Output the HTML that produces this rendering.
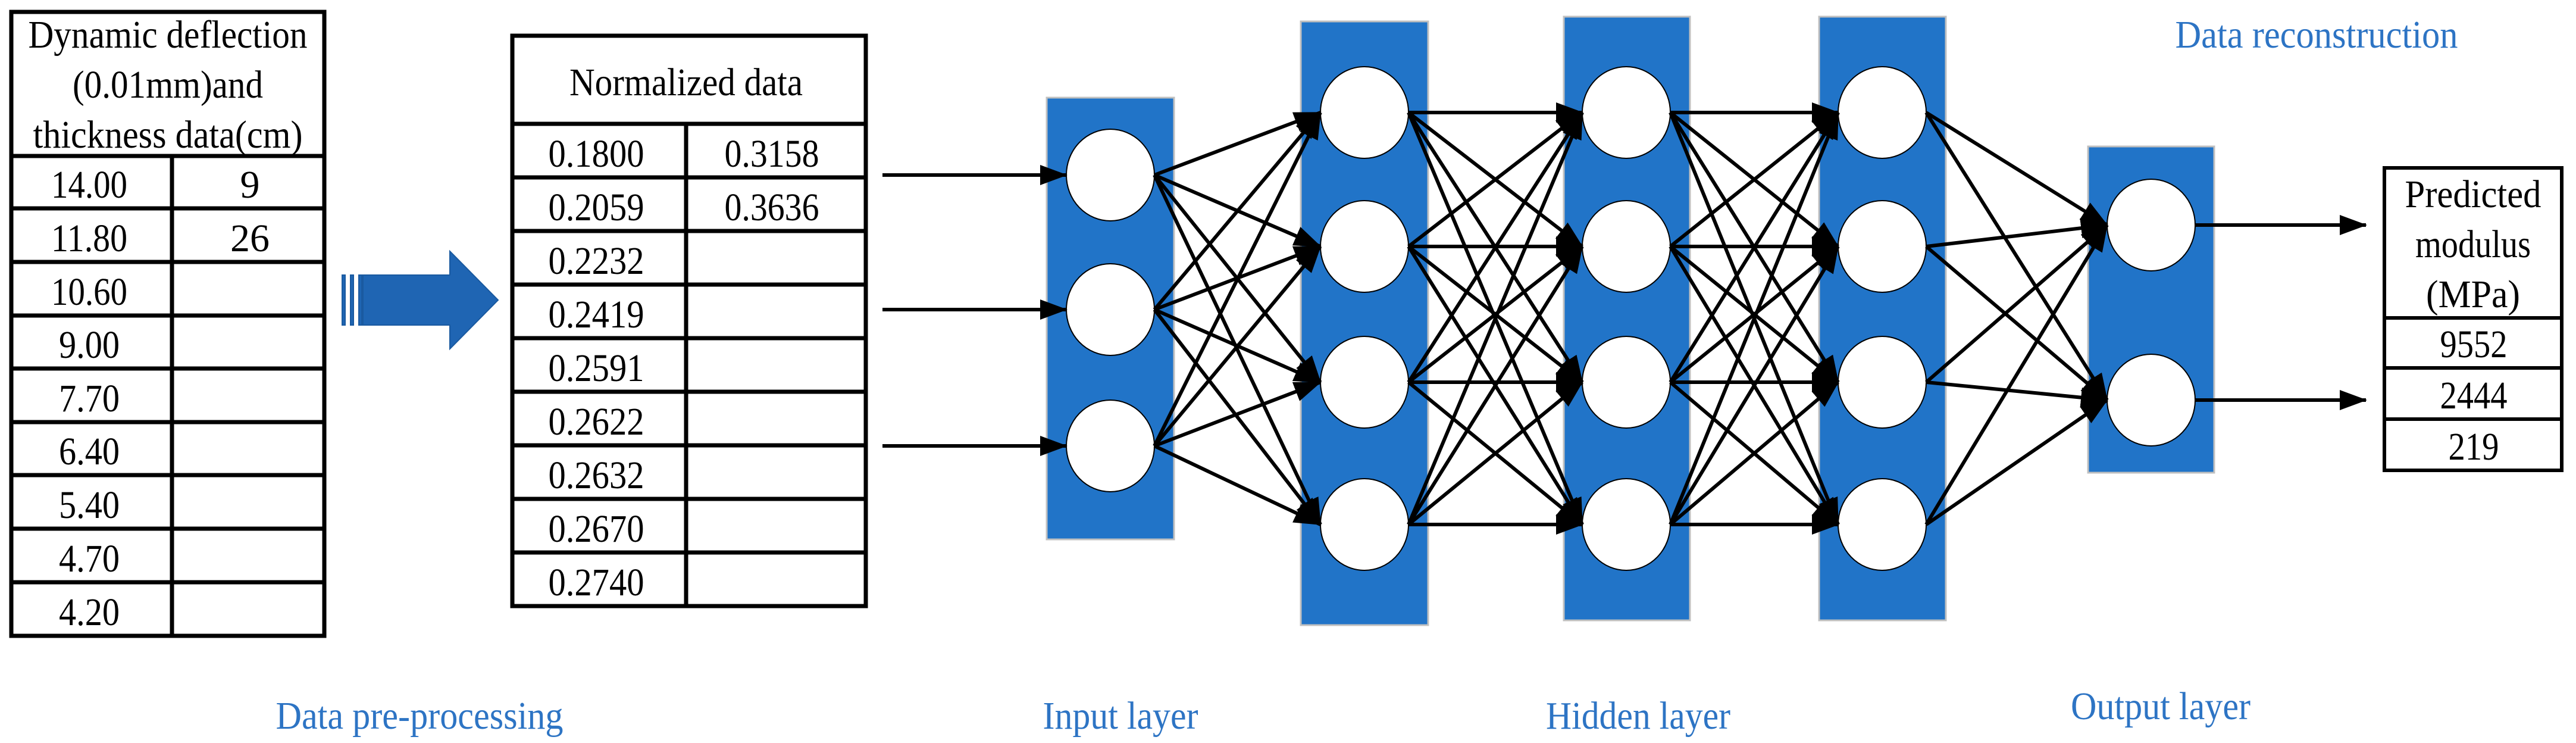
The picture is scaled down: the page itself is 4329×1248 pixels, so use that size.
<!DOCTYPE html>
<html><head><meta charset="utf-8"><style>html,body{margin:0;padding:0;background:#fff}svg{display:block}text{font-family:"Liberation Serif","DejaVu Serif",serif}</style></head><body>
<svg width="4329" height="1248" viewBox="0 0 4329 1248" xmlns="http://www.w3.org/2000/svg" style="font-family:'Liberation Serif',serif">
<defs>
<marker id="a" markerUnits="userSpaceOnUse" markerWidth="46" markerHeight="34" refX="44" refY="17" orient="auto"><path d="M0,0 L46,17 L0,34 z" fill="#000"/></marker>
</defs>
<g stroke="#000" stroke-width="7" fill="none">
<rect x="19" y="20" width="526" height="1048"/>
<line x1="19" y1="262" x2="545" y2="262"/>
<line x1="289" y1="262" x2="289" y2="1068"/>
<line x1="19" y1="350" x2="545" y2="350"/><line x1="19" y1="440" x2="545" y2="440"/><line x1="19" y1="530" x2="545" y2="530"/><line x1="19" y1="619" x2="545" y2="619"/><line x1="19" y1="709" x2="545" y2="709"/><line x1="19" y1="798" x2="545" y2="798"/><line x1="19" y1="888" x2="545" y2="888"/><line x1="19" y1="978" x2="545" y2="978"/>
</g>
<g font-size="66" fill="#000" text-anchor="middle">
<text x="282" y="80" textLength="469" lengthAdjust="spacingAndGlyphs">Dynamic deflection</text>
<text x="282" y="164" textLength="320" lengthAdjust="spacingAndGlyphs">(0.01mm)and</text>
<text x="282" y="248" textLength="453" lengthAdjust="spacingAndGlyphs">thickness data(cm)</text>
<text x="150" y="332" textLength="128" lengthAdjust="spacingAndGlyphs">14.00</text>
<text x="420" y="332">9</text>
<text x="150" y="422" textLength="128" lengthAdjust="spacingAndGlyphs">11.80</text>
<text x="420" y="422">26</text>
<text x="150" y="512" textLength="128" lengthAdjust="spacingAndGlyphs">10.60</text>
<text x="150" y="601" textLength="102" lengthAdjust="spacingAndGlyphs">9.00</text>
<text x="150" y="691" textLength="102" lengthAdjust="spacingAndGlyphs">7.70</text>
<text x="150" y="780" textLength="102" lengthAdjust="spacingAndGlyphs">6.40</text>
<text x="150" y="870" textLength="102" lengthAdjust="spacingAndGlyphs">5.40</text>
<text x="150" y="960" textLength="102" lengthAdjust="spacingAndGlyphs">4.70</text>
<text x="150" y="1050" textLength="102" lengthAdjust="spacingAndGlyphs">4.20</text>
</g>
<g fill="#1f65b3" stroke="#1a5aa0" stroke-width="2">
<rect x="575" y="462" width="5" height="84"/><rect x="589" y="462" width="5" height="84"/><rect x="603" y="462" width="5" height="84"/>
<path d="M610,462 L756,462 L756,422 L837,504 L756,586 L756,546 L610,546 z"/>
</g>
<g stroke="#000" stroke-width="7" fill="none">
<rect x="861" y="60" width="594" height="958"/>
<line x1="861" y1="208" x2="1455" y2="208"/>
<line x1="1153" y1="208" x2="1153" y2="1018"/>
<line x1="861" y1="298" x2="1455" y2="298"/><line x1="861" y1="388" x2="1455" y2="388"/><line x1="861" y1="478" x2="1455" y2="478"/><line x1="861" y1="568" x2="1455" y2="568"/><line x1="861" y1="658" x2="1455" y2="658"/><line x1="861" y1="748" x2="1455" y2="748"/><line x1="861" y1="838" x2="1455" y2="838"/><line x1="861" y1="928" x2="1455" y2="928"/>
</g>
<g font-size="66" fill="#000" text-anchor="middle">
<text x="1153" y="160" textLength="392" lengthAdjust="spacingAndGlyphs">Normalized data</text>
<text x="1002" y="280" textLength="161" lengthAdjust="spacingAndGlyphs">0.1800</text>
<text x="1297" y="280" textLength="159" lengthAdjust="spacingAndGlyphs">0.3158</text>
<text x="1002" y="370" textLength="161" lengthAdjust="spacingAndGlyphs">0.2059</text>
<text x="1297" y="370" textLength="159" lengthAdjust="spacingAndGlyphs">0.3636</text>
<text x="1002" y="460" textLength="161" lengthAdjust="spacingAndGlyphs">0.2232</text>
<text x="1002" y="550" textLength="161" lengthAdjust="spacingAndGlyphs">0.2419</text>
<text x="1002" y="640" textLength="161" lengthAdjust="spacingAndGlyphs">0.2591</text>
<text x="1002" y="730" textLength="161" lengthAdjust="spacingAndGlyphs">0.2622</text>
<text x="1002" y="820" textLength="161" lengthAdjust="spacingAndGlyphs">0.2632</text>
<text x="1002" y="910" textLength="161" lengthAdjust="spacingAndGlyphs">0.2670</text>
<text x="1002" y="1000" textLength="161" lengthAdjust="spacingAndGlyphs">0.2740</text>
</g>
<g fill="#2174c8" stroke="#c0c0c0" stroke-width="3">
<rect x="1759" y="164" width="214" height="742"/>
<rect x="2186" y="36" width="214" height="1014"/>
<rect x="2628" y="28" width="212" height="1014"/>
<rect x="3057" y="28" width="213" height="1014"/>
<rect x="3509" y="246" width="212" height="548"/>
</g>
<g fill="#fff" stroke="#000" stroke-width="2">
<ellipse cx="1866" cy="294" rx="74" ry="77"/><ellipse cx="1866" cy="520" rx="74" ry="77"/><ellipse cx="1866" cy="749" rx="74" ry="77"/>
<ellipse cx="2293" cy="189" rx="74" ry="77"/><ellipse cx="2293" cy="414" rx="74" ry="77"/><ellipse cx="2293" cy="642" rx="74" ry="77"/><ellipse cx="2293" cy="881" rx="74" ry="77"/>
<ellipse cx="2733" cy="189" rx="74" ry="77"/><ellipse cx="2733" cy="414" rx="74" ry="77"/><ellipse cx="2733" cy="642" rx="74" ry="77"/><ellipse cx="2733" cy="881" rx="74" ry="77"/>
<ellipse cx="3163" cy="189" rx="74" ry="77"/><ellipse cx="3163" cy="414" rx="74" ry="77"/><ellipse cx="3163" cy="642" rx="74" ry="77"/><ellipse cx="3163" cy="881" rx="74" ry="77"/>
<ellipse cx="3615" cy="378" rx="74" ry="77"/><ellipse cx="3615" cy="672" rx="74" ry="77"/>
</g>
<g stroke="#000" stroke-width="6" marker-end="url(#a)">
<line x1="1483" y1="294" x2="1792" y2="294"/><line x1="1483" y1="520" x2="1792" y2="520"/><line x1="1483" y1="749" x2="1792" y2="749"/>
<line x1="1940" y1="294" x2="2219" y2="189"/><line x1="1940" y1="294" x2="2219" y2="414"/><line x1="1940" y1="294" x2="2219" y2="642"/><line x1="1940" y1="294" x2="2219" y2="881"/>
<line x1="1940" y1="520" x2="2219" y2="189"/><line x1="1940" y1="520" x2="2219" y2="414"/><line x1="1940" y1="520" x2="2219" y2="642"/><line x1="1940" y1="520" x2="2219" y2="881"/>
<line x1="1940" y1="749" x2="2219" y2="189"/><line x1="1940" y1="749" x2="2219" y2="414"/><line x1="1940" y1="749" x2="2219" y2="642"/><line x1="1940" y1="749" x2="2219" y2="881"/>
<line x1="2367" y1="189" x2="2659" y2="189"/><line x1="2367" y1="189" x2="2659" y2="414"/><line x1="2367" y1="189" x2="2659" y2="642"/><line x1="2367" y1="189" x2="2659" y2="881"/>
<line x1="2367" y1="414" x2="2659" y2="189"/><line x1="2367" y1="414" x2="2659" y2="414"/><line x1="2367" y1="414" x2="2659" y2="642"/><line x1="2367" y1="414" x2="2659" y2="881"/>
<line x1="2367" y1="642" x2="2659" y2="189"/><line x1="2367" y1="642" x2="2659" y2="414"/><line x1="2367" y1="642" x2="2659" y2="642"/><line x1="2367" y1="642" x2="2659" y2="881"/>
<line x1="2367" y1="881" x2="2659" y2="189"/><line x1="2367" y1="881" x2="2659" y2="414"/><line x1="2367" y1="881" x2="2659" y2="642"/><line x1="2367" y1="881" x2="2659" y2="881"/>
<line x1="2807" y1="189" x2="3089" y2="189"/><line x1="2807" y1="189" x2="3089" y2="414"/><line x1="2807" y1="189" x2="3089" y2="642"/><line x1="2807" y1="189" x2="3089" y2="881"/>
<line x1="2807" y1="414" x2="3089" y2="189"/><line x1="2807" y1="414" x2="3089" y2="414"/><line x1="2807" y1="414" x2="3089" y2="642"/><line x1="2807" y1="414" x2="3089" y2="881"/>
<line x1="2807" y1="642" x2="3089" y2="189"/><line x1="2807" y1="642" x2="3089" y2="414"/><line x1="2807" y1="642" x2="3089" y2="642"/><line x1="2807" y1="642" x2="3089" y2="881"/>
<line x1="2807" y1="881" x2="3089" y2="189"/><line x1="2807" y1="881" x2="3089" y2="414"/><line x1="2807" y1="881" x2="3089" y2="642"/><line x1="2807" y1="881" x2="3089" y2="881"/>
<line x1="3237" y1="189" x2="3541" y2="378"/><line x1="3237" y1="189" x2="3541" y2="672"/>
<line x1="3237" y1="414" x2="3541" y2="378"/><line x1="3237" y1="414" x2="3541" y2="672"/>
<line x1="3237" y1="642" x2="3541" y2="378"/><line x1="3237" y1="642" x2="3541" y2="672"/>
<line x1="3237" y1="881" x2="3541" y2="378"/><line x1="3237" y1="881" x2="3541" y2="672"/>
<line x1="3689" y1="378" x2="3976" y2="378"/><line x1="3689" y1="672" x2="3976" y2="672"/>
</g>
<g stroke="#000" stroke-width="6" fill="none">
<rect x="4007" y="282" width="298" height="508"/>
<line x1="4007" y1="534" x2="4305" y2="534"/><line x1="4007" y1="618" x2="4305" y2="618"/><line x1="4007" y1="704" x2="4305" y2="704"/>
</g>
<g font-size="66" fill="#000" text-anchor="middle">
<text x="4156" y="348" textLength="229" lengthAdjust="spacingAndGlyphs">Predicted</text>
<text x="4156" y="432" textLength="194" lengthAdjust="spacingAndGlyphs">modulus</text>
<text x="4156" y="516" textLength="158" lengthAdjust="spacingAndGlyphs">(MPa)</text>
<text x="4157" y="600" textLength="113" lengthAdjust="spacingAndGlyphs">9552</text>
<text x="4157" y="686" textLength="113" lengthAdjust="spacingAndGlyphs">2444</text>
<text x="4157" y="772" textLength="85" lengthAdjust="spacingAndGlyphs">219</text>
</g>
<g font-size="66" fill="#2d74c4" text-anchor="middle">
<text x="3893" y="80" textLength="475" lengthAdjust="spacingAndGlyphs">Data reconstruction</text>
<text x="705" y="1224" textLength="483" lengthAdjust="spacingAndGlyphs">Data pre-processing</text>
<text x="1883" y="1224" textLength="261" lengthAdjust="spacingAndGlyphs">Input layer</text>
<text x="2753" y="1224" textLength="310" lengthAdjust="spacingAndGlyphs">Hidden layer</text>
<text x="3631" y="1208" textLength="302" lengthAdjust="spacingAndGlyphs">Output layer</text>
</g>
</svg>
</body></html>
